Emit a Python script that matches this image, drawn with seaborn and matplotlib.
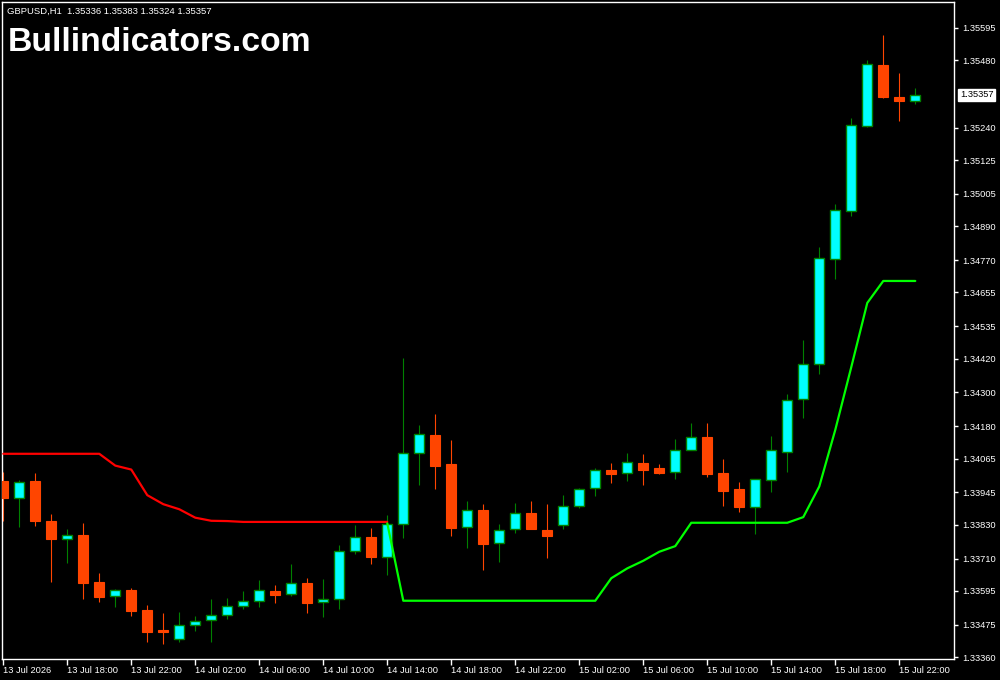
import matplotlib
matplotlib.use("Agg")
import matplotlib.pyplot as plt
import matplotlib.transforms as mtransforms
import seaborn as sns

# GBPUSD H1 candles, 13 Jul 14:00 -> 15 Jul 23:00
open_ = [1.33985, 1.33924, 1.33985, 1.33843, 1.33778, 1.33794, 1.33627, 1.33576, 1.33598, 1.33527,
         1.33456, 1.33423, 1.33473, 1.33490, 1.33508, 1.33540, 1.33558, 1.33595, 1.33583, 1.33623,
         1.33554, 1.33565, 1.33736, 1.33786, 1.33716, 1.33832, 1.34086, 1.34149, 1.34046, 1.33821,
         1.33882, 1.33764, 1.33814, 1.33872, 1.33811, 1.33828, 1.33896, 1.33959, 1.34025, 1.34013,
         1.34049, 1.34032, 1.34016, 1.34094, 1.34142, 1.34014, 1.33957, 1.33894, 1.33988, 1.34090,
         1.34276, 1.34400, 1.34775, 1.34946, 1.35248, 1.35464, 1.35350, 1.35336]
high = [1.34016, 1.33989, 1.34014, 1.33868, 1.33815, 1.33836, 1.33659, 1.33602, 1.33605, 1.33545,
        1.33516, 1.33520, 1.33506, 1.33566, 1.33570, 1.33595, 1.33634, 1.33616, 1.33690, 1.33641,
        1.33637, 1.33758, 1.33829, 1.33818, 1.33865, 1.34422, 1.34184, 1.34224, 1.34131, 1.33914,
        1.33904, 1.33832, 1.33907, 1.33914, 1.33904, 1.33936, 1.33961, 1.34031, 1.34049, 1.34085,
        1.34081, 1.34046, 1.34135, 1.34192, 1.34192, 1.34064, 1.33982, 1.33991, 1.34145, 1.34295,
        1.34486, 1.34817, 1.34970, 1.35275, 1.35481, 1.35570, 1.35435, 1.35383]
low = [1.33844, 1.33823, 1.33827, 1.33628, 1.33695, 1.33567, 1.33557, 1.33539, 1.33507, 1.33414,
       1.33407, 1.33414, 1.33453, 1.33414, 1.33496, 1.33532, 1.33539, 1.33552, 1.33578, 1.33516,
       1.33503, 1.33532, 1.33727, 1.33692, 1.33651, 1.33784, 1.33971, 1.33957, 1.33790, 1.33748,
       1.33670, 1.33699, 1.33802, 1.33816, 1.33713, 1.33816, 1.33891, 1.33933, 1.33979, 1.33986,
       1.33972, 1.34011, 1.33994, 1.34094, 1.34000, 1.33898, 1.33876, 1.33797, 1.33947, 1.34018,
       1.34210, 1.34367, 1.34704, 1.34928, 1.35244, 1.35347, 1.35265, 1.35324]
close = [1.33926, 1.33981, 1.33844, 1.33778, 1.33792, 1.33624, 1.33574, 1.33597, 1.33525, 1.33450,
         1.33450, 1.33473, 1.33487, 1.33508, 1.33540, 1.33558, 1.33597, 1.33581, 1.33622, 1.33552,
         1.33565, 1.33736, 1.33785, 1.33716, 1.33832, 1.34084, 1.34151, 1.34039, 1.33819, 1.33881,
         1.33763, 1.33810, 1.33871, 1.33816, 1.33791, 1.33896, 1.33956, 1.34023, 1.34011, 1.34052,
         1.34026, 1.34015, 1.34094, 1.34141, 1.34011, 1.33951, 1.33893, 1.33991, 1.34094, 1.34272,
         1.34400, 1.34778, 1.34948, 1.35249, 1.35467, 1.35350, 1.35336, 1.35357]

# trend line: red (down) on bars 0..24, green (up) on bars 24..57
red_start = 0
red_line = [1.34082, 1.34082, 1.34082, 1.34082, 1.34082, 1.34082, 1.34082, 1.34040, 1.34026, 1.33935,
            1.33903, 1.33885, 1.33855, 1.33844, 1.33843, 1.33840, 1.33840, 1.33840, 1.33840, 1.33840,
            1.33840, 1.33840, 1.33840, 1.33840, 1.33840]
green_start = 24
green_line = [1.33835, 1.33560, 1.33560, 1.33560, 1.33560, 1.33560, 1.33560, 1.33560, 1.33560, 1.33560,
              1.33560, 1.33560, 1.33560, 1.33560, 1.33640, 1.33675, 1.33702, 1.33734, 1.33754, 1.33837,
              1.33837, 1.33837, 1.33837, 1.33837, 1.33837, 1.33837, 1.33857, 1.33966, 1.34167, 1.34390,
              1.34618, 1.34696, 1.34696, 1.34696]

time_ticks = [0, 4, 8, 12, 16, 20, 24, 28, 32, 36, 40, 44, 48, 52, 56]
time_labels = ["13 Jul 2026", "13 Jul 18:00", "13 Jul 22:00", "14 Jul 02:00", "14 Jul 06:00",
               "14 Jul 10:00", "14 Jul 14:00", "14 Jul 18:00", "14 Jul 22:00", "15 Jul 02:00",
               "15 Jul 06:00", "15 Jul 10:00", "15 Jul 14:00", "15 Jul 18:00", "15 Jul 22:00"]
price_ticks = [1.35595, 1.35480, 1.35240, 1.35125, 1.35005, 1.34890, 1.34770, 1.34655, 1.34535,
               1.34420, 1.34300, 1.34180, 1.34065, 1.33945, 1.33830, 1.33710, 1.33595, 1.33475,
               1.33360]
last_price = 1.35357
header = "GBPUSD,H1  1.35336 1.35383 1.35324 1.35357"

sns.set_theme(style="ticks", rc={
    "figure.facecolor": "black",
    "axes.facecolor": "black",
    "axes.edgecolor": "white",
    "axes.linewidth": 1.0,
    "axes.grid": False,
    "xtick.color": "white",
    "ytick.color": "white",
    "text.color": "white",
})
plt.rcParams["font.family"] = ["Liberation Sans", "DejaVu Sans"]

fig = plt.figure(figsize=(10, 6.8), dpi=100)
ax = fig.add_axes([2 / 1000, 21 / 680, 952 / 1000, 657 / 680])

bull_fill, bull_edge = "#00FFFF", "#008000"
bear_color = "#FF4500"
body_w = 0.64
min_body = 0.00005

xs = list(range(len(open_)))
for i in xs:
    o, h, l, c = open_[i], high[i], low[i], close[i]
    up = c >= o
    wick_col = bull_edge if up else bear_color
    ax.vlines(i, l, h, colors=wick_col, linewidth=0.8, zorder=2)
    bottom = min(o, c)
    height = max(abs(c - o), min_body)
    if up:
        ax.bar(i, height, bottom=bottom, width=body_w, color=bull_fill,
               edgecolor=bull_edge, linewidth=1.0, zorder=3)
    else:
        ax.bar(i, height, bottom=bottom, width=body_w, color=bear_color,
               edgecolor=bear_color, linewidth=0.8, zorder=3)

red_x = list(range(red_start, red_start + len(red_line)))
green_x = list(range(green_start, green_start + len(green_line)))
sns.lineplot(x=red_x, y=red_line, color="#FF0000", linewidth=1.6, ax=ax, zorder=4)
sns.lineplot(x=green_x, y=green_line, color="#00FF00", linewidth=1.6, ax=ax, zorder=4)

ax.set_xlim(-0.08, 59.42)
ax.set_ylim(1.33353, 1.35687)

for side in ["left", "right", "top", "bottom"]:
    ax.spines[side].set_visible(True)
    ax.spines[side].set_color("white")

ax.yaxis.tick_right()
ax.set_yticks(price_ticks)
ax.set_yticklabels([f"{p:.5f}" for p in price_ticks])
ax.tick_params(axis="y", direction="out", length=3, width=1, pad=3,
               labelsize=6.7, colors="white")

ax.set_xticks(time_ticks)
ax.set_xticklabels(time_labels)
ax.tick_params(axis="x", direction="out", length=4, width=1, pad=1,
               labelsize=6.7, colors="white")
for lab in ax.get_xticklabels():
    lab.set_horizontalalignment("left")

ax.set_xlabel("")
ax.set_ylabel("")

# current price tag on the right scale
trans = mtransforms.blended_transform_factory(ax.transAxes, ax.transData)
ax.text(1.0 + 6 / 952, last_price, f"{last_price:.5f}", transform=trans,
        ha="left", va="center", fontsize=6.7, color="black", zorder=10,
        bbox=dict(facecolor="white", edgecolor="white", pad=1.2), clip_on=False)

fig.text(7 / 1000, 1 - 14 / 680, header, ha="left", va="baseline",
         fontsize=6.8, color="white")
fig.text(8 / 1000, 1 - 51 / 680, "Bullindicators.com", ha="left", va="baseline",
         fontsize=24.3, fontweight="bold", color="white")

fig.savefig("out.png", dpi=100, facecolor="black")
